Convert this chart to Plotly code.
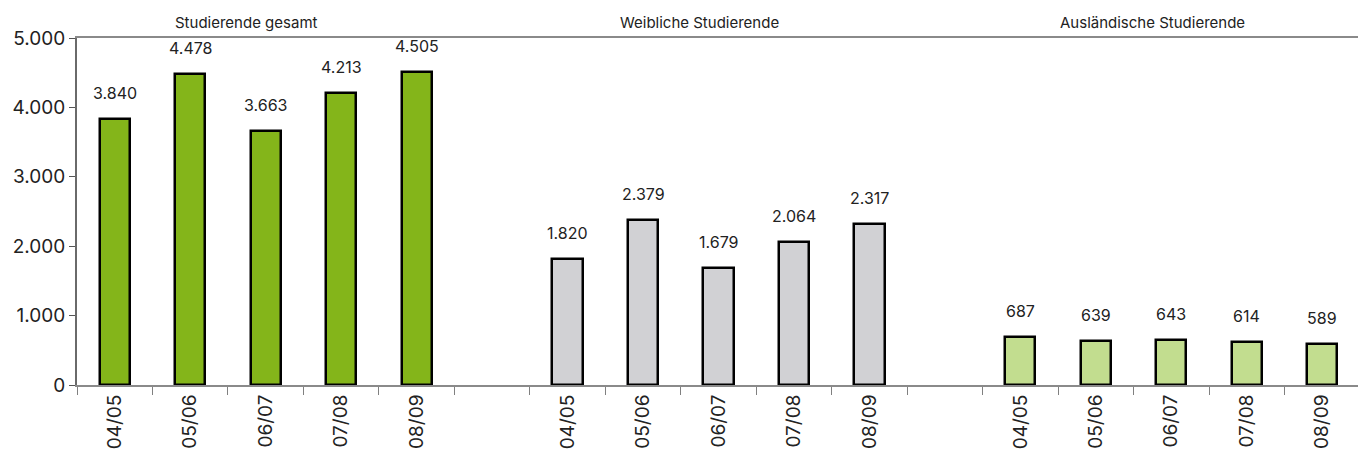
import plotly.graph_objects as go

seasons = ["04/05", "05/06", "06/07", "07/08", "08/09"]
groups = ["Studierende gesamt", "Weibliche Studierende", "Ausländische Studierende"]
gesamt = [3840, 4478, 3663, 4213, 4505]
weiblich = [1820, 2379, 1679, 2064, 2317]
auslaendisch = [687, 639, 643, 614, 589]

colors = ["#84B51A", "#D1D1D4", "#C2DD8F"]
FONT = "Inter"


def de(n):
    return f"{n:,}".replace(",", ".")


fig = go.Figure()
tickvals, ticktext = [], []
slot = len(seasons) + 1
for g, (name, values) in enumerate(zip(groups, [gesamt, weiblich, auslaendisch])):
    xs = [g * slot + i for i in range(len(seasons))]
    fig.add_trace(go.Bar(
        x=xs, y=values, name=name, width=0.4,
        marker={"color": colors[g], "line": {"color": "#000000", "width": 2.5}},
        hoverinfo="y",
    ))
    tickvals += xs
    ticktext += seasons
    for x, v in zip(xs, values):
        fig.add_annotation(
            x=x, y=v, text=de(v), showarrow=False, yanchor="middle", yshift=26,
            font={"size": 16, "color": "#222222", "family": FONT},
        )
    fig.add_annotation(
        x=(xs[0] + xs[-1]) / 2 - 0.25, y=1.046, yref="paper", text=name,
        showarrow=False, yanchor="middle",
        font={"size": 15, "color": "#222222", "family": FONT},
    )

fig.update_xaxes(
    range=[-0.5, 3 * slot - 1 - 0.5],
    tickmode="array", tickvals=tickvals, ticktext=ticktext,
    tickangle=-90, ticks="", ticklen=0,
    minor={"ticks": "outside", "tick0": -0.5, "dtick": 1, "ticklen": 8,
           "tickcolor": "#808080", "tickwidth": 1},
    showline=True, linecolor="#8a8a8a", linewidth=2, mirror=True,
    showgrid=False, zeroline=False, automargin=False,
    tickfont={"size": 19, "color": "#222222", "family": FONT},
)
fig.update_yaxes(
    range=[0, 5000], dtick=1000, tickformat=",d",
    ticks="outside", ticklen=6, tickcolor="#555555",
    showline=True, linecolor="#6a6a6a", linewidth=2, mirror=True,
    showgrid=False, zeroline=False, automargin=False,
    tickfont={"size": 19, "color": "#222222", "family": FONT},
)
fig.update_layout(
    width=1358, height=452,
    margin={"l": 69, "r": 6, "t": 30, "b": 75},
    separators=",.",
    showlegend=False,
    bargap=0,
    plot_bgcolor="#ffffff", paper_bgcolor="#ffffff",
    font={"family": FONT},
)
fig.write_html("out.html")
